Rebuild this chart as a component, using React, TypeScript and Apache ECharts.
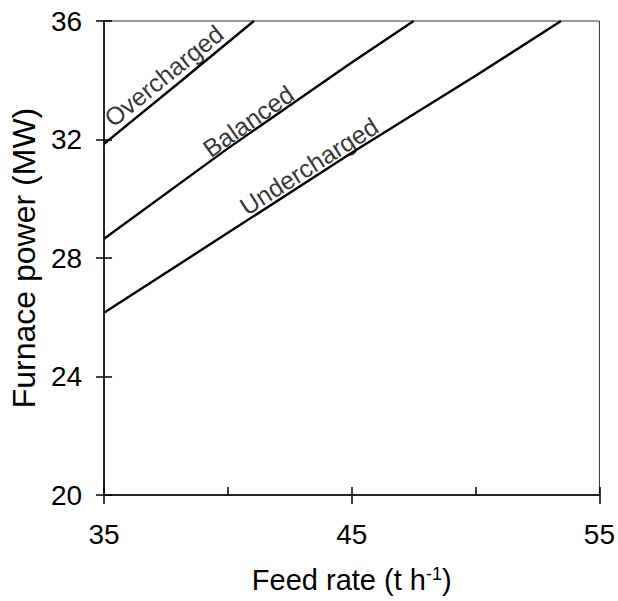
import React, { useEffect, useRef } from "react";
import * as echarts from "echarts";

// Feed rate (t/h) vs furnace power (MW)
const overchargedX = [35, 38, 41.05];
const overchargedY = [31.85, 33.9, 36];
const balancedX = [35, 40, 45, 47.5];
const balancedY = [28.65, 31.7, 34.6, 36];
const underchargedX = [35, 40, 45, 50, 53.45];
const underchargedY = [26.15, 28.85, 31.55, 34.15, 36];

// Line labels (anchor in data coordinates)
const labelNames = ["Overcharged", "Balanced", "Undercharged"];
const labelX = [37.41, 40.82, 43.27];
const labelY = [34.15, 32.62, 31.1];

// Axes
const xMin = 35;
const xMax = 55;
const yMin = 20;
const yMax = 36;

const FONT = "'Liberation Sans', Arial, Helvetica, sans-serif";
const labelAngles = [39, 35, 32.5];

function pairs(xs: number[], ys: number[]) {
  return xs.map((x, i) => [x, ys[i]]);
}

export default function App() {
  const ref = useRef<HTMLDivElement>(null);
  useEffect(() => {
    if (!ref.current) return;
    const chart = echarts.init(ref.current, undefined, { renderer: "svg" });
    const lineStyle = { color: "#000", width: 2.4 };
    const axisLineStyle = { color: "#000", width: 1.5 };
    chart.setOption({
      animation: false,
      backgroundColor: "#fff",
      textStyle: { fontFamily: FONT },
      grid: {
        left: 102,
        right: 18,
        top: 21,
        bottom: 106,
        show: true,
        borderColor: "#333",
        borderWidth: 1,
      },
      xAxis: [
        {
          type: "value",
          min: xMin,
          max: xMax,
          interval: 10,
          position: "bottom",
          axisLine: { show: true, lineStyle: axisLineStyle },
          axisTick: { show: true, inside: false, length: 9, lineStyle: axisLineStyle },
          axisLabel: { color: "#000", fontSize: 28, margin: 25, fontFamily: FONT },
          splitLine: { show: false },
          name: "{a|Feed rate (t h}{b|-1}{a|)}",
          nameLocation: "middle",
          nameGap: 70,
          nameTextStyle: {
            rich: {
              a: { fontSize: 29, color: "#000", fontFamily: FONT },
              b: { fontSize: 18, color: "#000", fontFamily: FONT, verticalAlign: "top" },
            },
          },
        },
        {
          type: "value",
          min: xMin,
          max: xMax,
          interval: 5,
          position: "bottom",
          axisLine: { show: false },
          axisTick: { show: true, inside: true, length: 8, lineStyle: axisLineStyle },
          axisLabel: { show: false },
          splitLine: { show: false },
        },
      ],
      yAxis: [
        {
          type: "value",
          min: yMin,
          max: yMax,
          interval: 4,
          position: "left",
          axisLine: { show: true, lineStyle: axisLineStyle },
          axisTick: { show: true, inside: false, length: 8, lineStyle: axisLineStyle },
          axisLabel: { color: "#000", fontSize: 28, margin: 22, fontFamily: FONT },
          splitLine: { show: false },
          name: "Furnace power (MW)",
          nameLocation: "middle",
          nameGap: 64,
          nameTextStyle: { fontSize: 32, color: "#000", fontFamily: FONT },
        },
        {
          type: "value",
          min: yMin,
          max: yMax,
          interval: 4,
          position: "left",
          axisLine: { show: false },
          axisTick: { show: true, inside: true, length: 8, lineStyle: axisLineStyle },
          axisLabel: { show: false },
          splitLine: { show: false },
        },
      ],
      series: [
        {
          type: "line",
          name: "Overcharged",
          data: pairs(overchargedX, overchargedY),
          showSymbol: false,
          symbol: "none",
          lineStyle,
        },
        {
          type: "line",
          name: "Balanced",
          data: pairs(balancedX, balancedY),
          showSymbol: false,
          symbol: "none",
          lineStyle,
        },
        {
          type: "line",
          name: "Undercharged",
          data: pairs(underchargedX, underchargedY),
          showSymbol: false,
          symbol: "none",
          lineStyle,
        },
        {
          type: "scatter",
          symbolSize: 0,
          silent: true,
          data: labelNames.map((n, i) => ({
            name: n,
            value: [labelX[i], labelY[i]],
            label: {
              show: true,
              position: "inside",
              formatter: n,
              rotate: labelAngles[i],
              fontSize: 25,
              color: "#000",
              fontFamily: FONT,
            },
          })),
        },
      ],
    });
    return () => chart.dispose();
  }, []);
  return (
    <div
      ref={ref}
      style={{ position: "fixed", left: 0, top: 0, width: 618, height: 601, background: "#fff" }}
    />
  );
}
